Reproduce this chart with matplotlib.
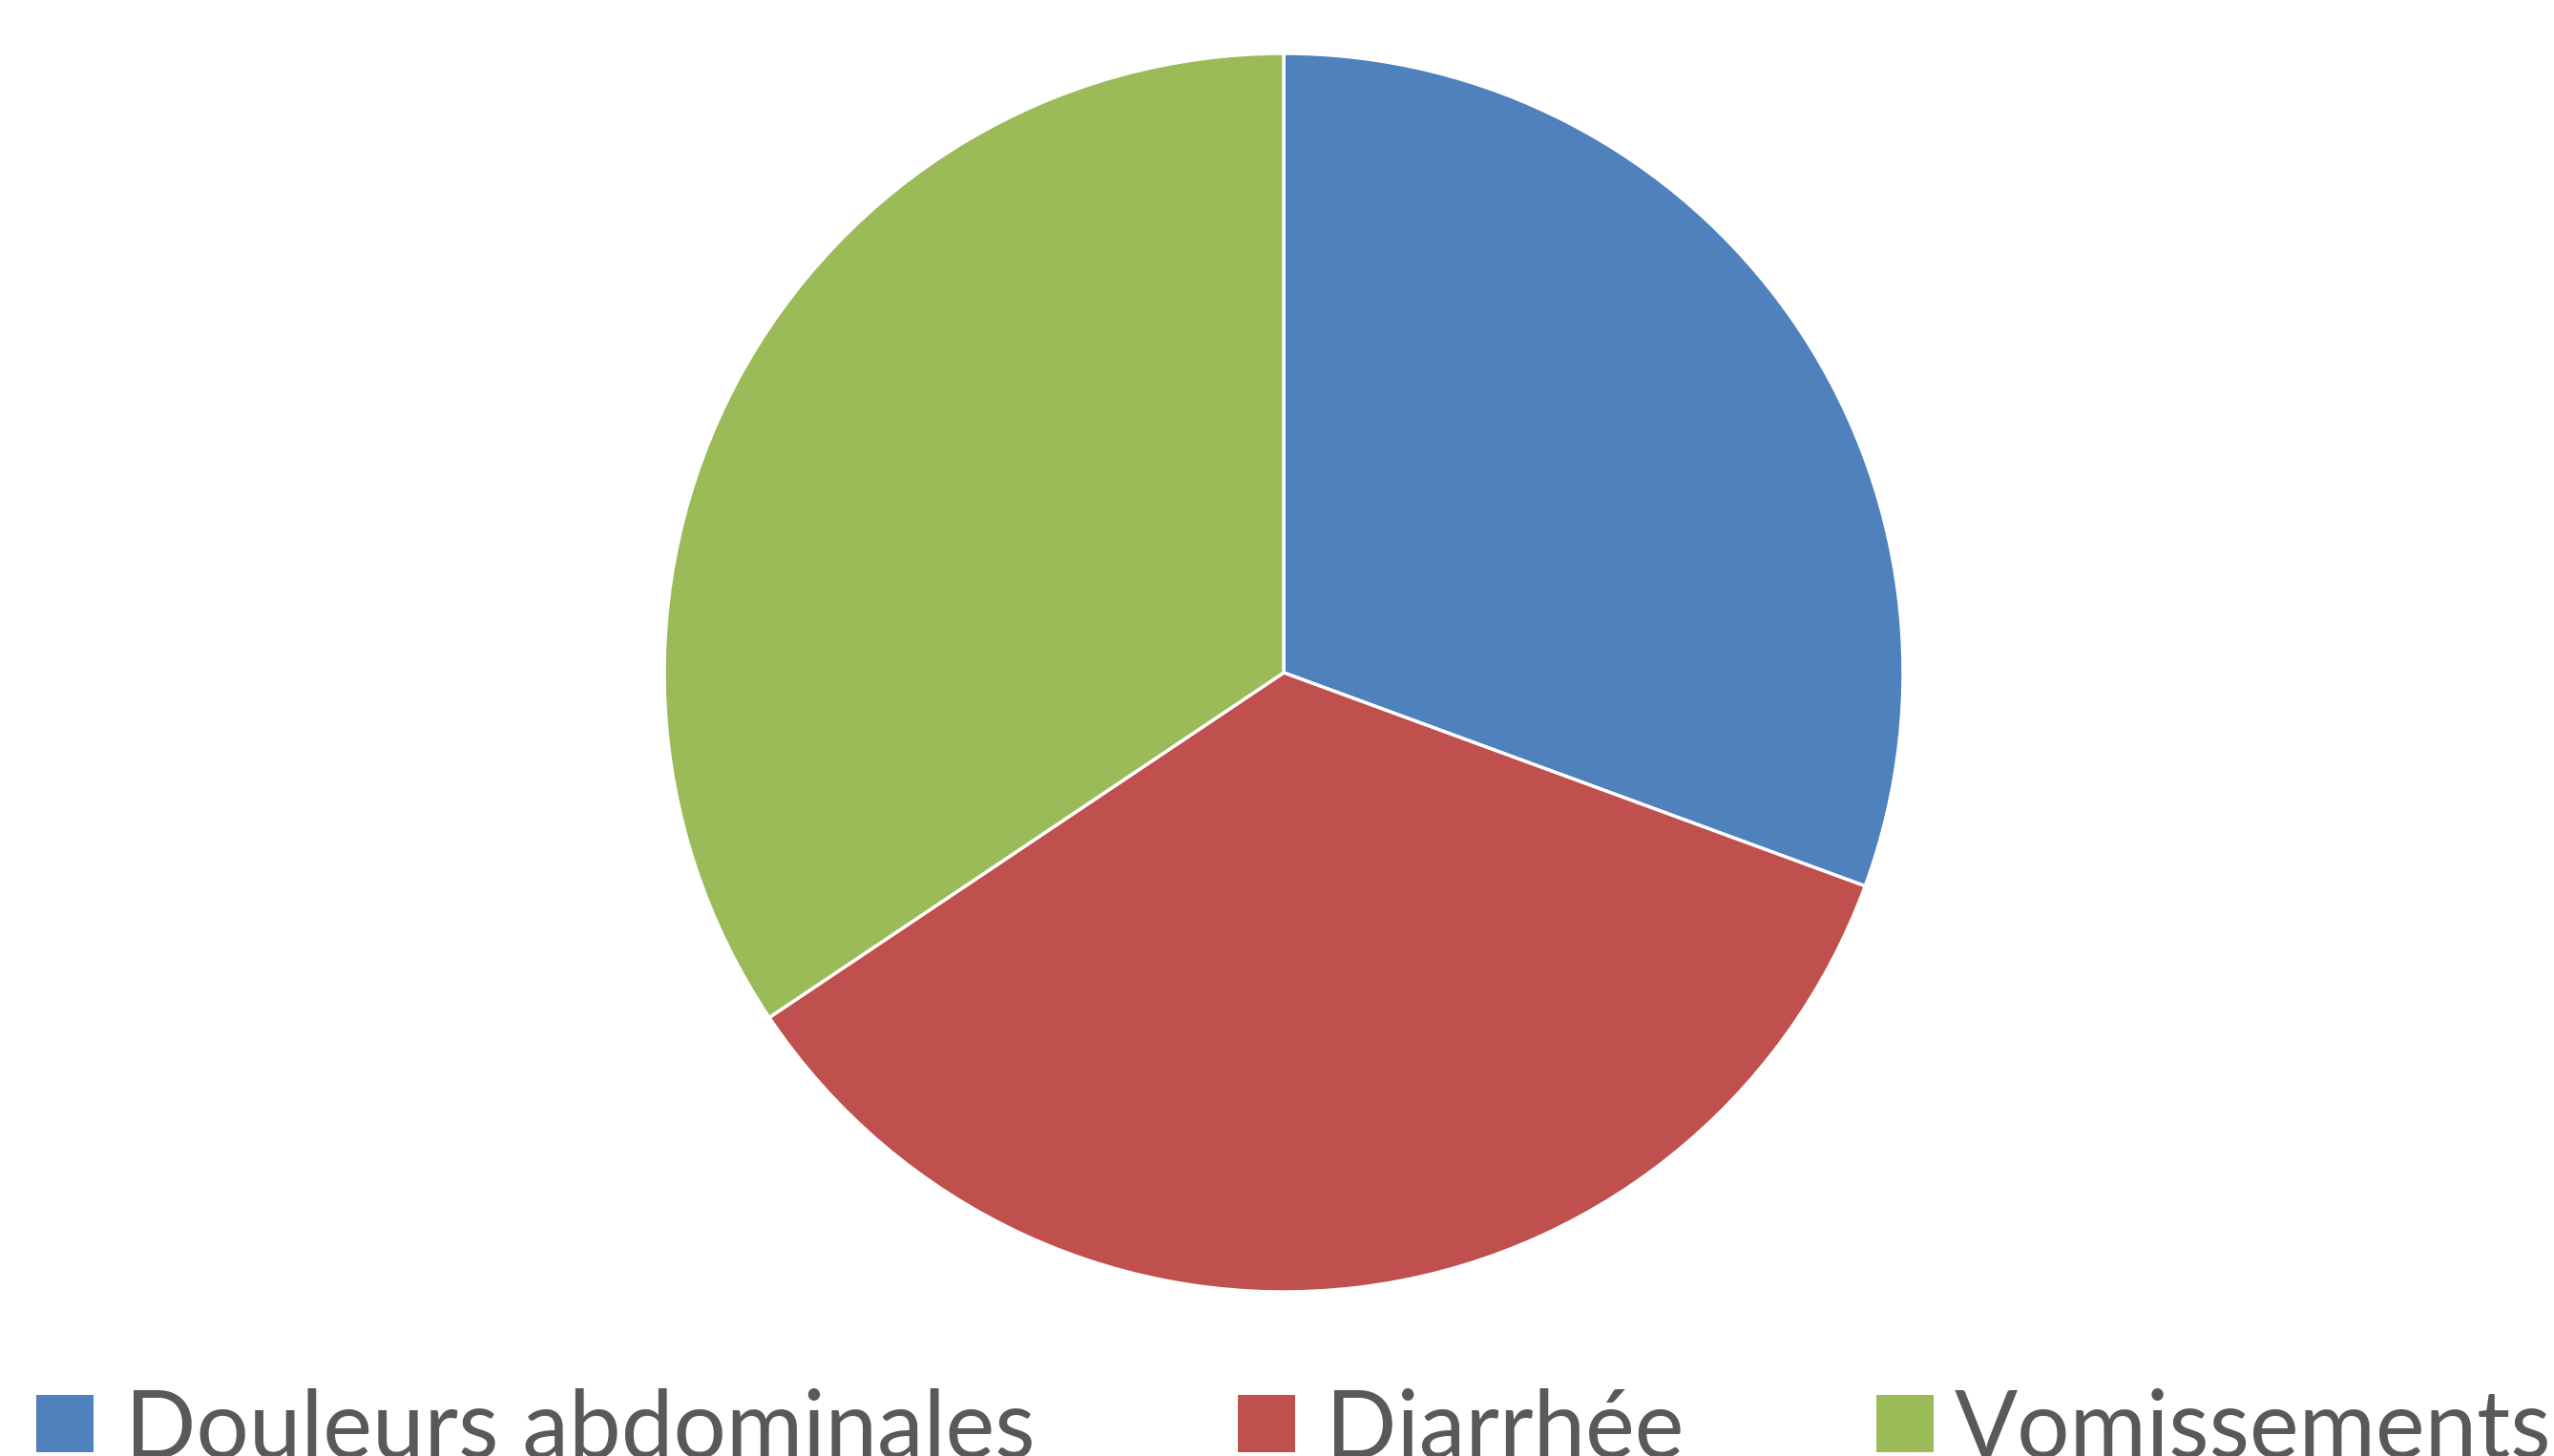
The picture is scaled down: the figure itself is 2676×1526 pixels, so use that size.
import matplotlib
matplotlib.use("Agg")
import matplotlib.pyplot as plt
from matplotlib.patches import Rectangle

categories = ["Douleurs abdominales", "Diarrhée", "Vomissements"]
values = [30.6, 35.0, 34.4]
colors = ["#4F81BD", "#C0504D", "#9BBB59"]

W, H = 2676, 1526
fig = plt.figure(figsize=(W / 100, H / 100), dpi=100)
fig.patch.set_facecolor("white")

cx, cy, r = 1345, 705, 649
ax = fig.add_axes([(cx - r) / W, (H - cy - r) / H, 2 * r / W, 2 * r / H])
ax.pie(values, colors=colors, startangle=90, counterclock=False,
       wedgeprops=dict(edgecolor="white", linewidth=2.5), radius=1)
ax.set_xlim(-1, 1)
ax.set_ylim(-1, 1)
ax.set_aspect("equal")
ax.axis("off")

# Legend (manual, bottom, partially cut off as in the reference)
sq_x = [38, 1297, 1966]
txt_x = [131, 1389, 2048]
sq_top, sq_size = 1462, 60
font = "Lato"
target_w = 955

renderer = fig.canvas.get_renderer()
t = fig.text(0, 0, categories[0], fontsize=60, family=font)
bb = t.get_window_extent(renderer)
fs = 60 * target_w / bb.width
t.remove()

baseline = 1528
for i, lab in enumerate(categories):
    fig.patches.append(Rectangle((sq_x[i] / W, (H - sq_top - sq_size) / H),
                                 sq_size / W, sq_size / H,
                                 transform=fig.transFigure, facecolor=colors[i],
                                 edgecolor="none"))
    fig.text(txt_x[i] / W, (H - baseline) / H, lab, fontsize=fs, family=font,
             color="#595959", va="baseline", ha="left")

fig.savefig("out.png", dpi=100, facecolor="white")
